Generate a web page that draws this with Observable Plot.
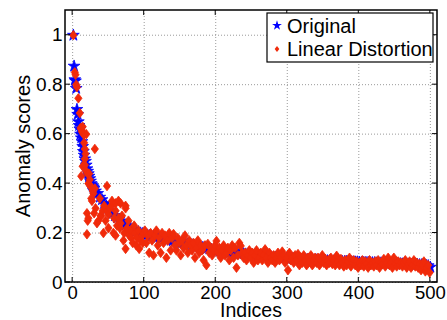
<!DOCTYPE html>
<html><head><meta charset="utf-8">
<script src="https://cdn.jsdelivr.net/npm/d3@7"></script>
<script src="https://cdn.jsdelivr.net/npm/@observablehq/plot@0.6"></script>
<style>body{margin:0;background:#fff}</style>
</head><body><div id="chart"></div>
<script>
// Axis ticks
const xTicks = [0, 100, 200, 300, 400, 500];
const yTicks = [0, 0.2, 0.4, 0.6, 0.8, 1];
const seriesNames = ["Original", "Linear Distortion"];

// Original: indices 1..30 individually
const origHeadScores = [1.00,0.875,0.82,0.815,0.785,0.70,0.68,0.65,0.635,0.62,0.60,0.585,0.57,0.55,0.53,0.515,0.50,0.49,0.475,0.46,0.45,0.44,0.43,0.42,0.41,0.40,0.395,0.39,0.385,0.38];
// Original: indices 32..500 every 3rd
const origTailScores = [
0.37,0.36,0.345,0.335,0.32,0.31,0.30,
0.29,0.28,0.27,0.262,0.255,0.247,0.24,0.233,0.226,0.22,
0.215,0.21,0.208,0.205,0.2,0.198,0.195,
0.192,0.19,0.188,0.186,0.185,0.183,0.181,0.179,0.177,0.175,0.173,0.171,0.169,0.167,0.165,0.163,0.161,
0.16,0.158,0.156,0.154,0.152,0.15,0.148,0.146,0.144,0.142,0.14,0.138,0.136,0.134,0.132,0.13,
0.128,0.127,0.126,0.125,0.124,0.123,0.122,0.121,0.12,0.119,0.118,0.117,0.116,0.115,0.114,0.113,0.112,
0.111,0.11,0.109,0.108,0.107,0.106,0.105,0.104,0.103,0.102,0.102,0.101,0.1,0.1,0.099,0.098,
0.098,0.097,0.097,0.096,0.095,0.095,0.094,0.094,0.093,0.093,0.092,0.092,0.091,0.091,0.09,0.09,0.089,
0.089,0.088,0.088,0.087,0.087,0.087,0.086,0.086,0.085,0.085,0.085,0.084,0.084,0.083,0.083,0.083,0.082,
0.082,0.081,0.081,0.081,0.08,0.08,0.08,0.079,0.079,0.079,0.078,0.078,0.078,0.077,0.077,0.077,0.076,
0.076,0.076,0.075,0.075,0.075,0.074,0.074,0.074,0.073,0.073,0.072,0.072,0.071,0.07,0.068,0.062];

// Linear distortion: early points [index, score]
const distHead = [[1,1.0],[3,0.85],[4,0.84],[5,0.80],[6,0.79],[8,0.745],[10,0.685],[11,0.625],[12,0.62],[13,0.61],[14,0.63],[15,0.60],[16,0.60],[19,0.60],[31,0.54],[16,0.565],[17,0.54],[18,0.52],[17,0.50],[15,0.47],[14,0.47],[12,0.43],[17,0.475],[19,0.45],[21,0.44],[23,0.44],[24,0.416],[22,0.40],[25,0.39],[27,0.38],[28,0.37],[29,0.36],[31,0.38],[27,0.33],[26,0.34],[20,0.28],[21,0.25],[20,0.195],[22,0.26],[30,0.28],[32,0.30],[34,0.24],[36,0.25],[38,0.34],[39,0.27],[40,0.27],[42,0.29],[43,0.20],[44,0.31],[46,0.25],[48,0.39],[48,0.29],[50,0.22],[50,0.275],[52,0.30],[54,0.31],[55,0.33],[57,0.20],[58,0.26],[60,0.32],[60,0.19],[60,0.29],[62,0.23],[64,0.33],[64,0.26],[66,0.22],[67,0.32],[67,0.24],[69,0.27],[71,0.17],[72,0.20],[74,0.30],[74,0.31],[74,0.136],[76,0.22],[78,0.25],[79,0.19],[81,0.21],[82,0.18],[84,0.16],[86,0.23],[87,0.20],[89,0.15],[90,0.18],[92,0.21],[93,0.136],[95,0.17],[97,0.19],[98,0.16],[99,0.20]];
// Linear distortion: indices 101..499 every 2nd
const distTailScores = [
0.21,0.16,0.19,0.12,0.20,0.17,0.11,0.19,0.21,0.15,
0.18,0.12,0.20,0.16,0.19,0.10,0.17,0.20,0.13,0.18,
0.196,0.15,0.13,0.18,0.16,0.11,0.17,0.14,0.19,0.15,
0.12,0.17,0.15,0.13,0.16,0.10,0.14,0.17,0.12,0.15,
0.13,0.09,0.15,0.07,0.156,0.12,0.14,0.11,0.13,0.15,
0.168,0.12,0.14,0.10,0.13,0.15,0.11,0.12,0.14,0.09,
0.13,0.15,0.10,0.14,0.06,0.11,0.16,0.148,0.12,0.10,
0.12,0.09,0.11,0.13,0.10,0.12,0.08,0.11,0.13,0.09,
0.10,0.12,0.09,0.11,0.134,0.10,0.08,0.12,0.10,0.09,
0.11,0.08,0.10,0.12,0.09,0.10,0.125,0.11,0.08,0.10,
0.05,0.12,0.09,0.10,0.08,0.11,0.09,0.115,0.07,0.10,
0.08,0.11,0.09,0.07,0.10,0.085,0.11,0.07,0.09,0.10,
0.08,0.10,0.07,0.09,0.11,0.08,0.095,0.07,0.09,0.08,
0.10,0.075,0.09,0.07,0.108,0.085,0.07,0.095,0.08,0.065,
0.09,0.07,0.085,0.10,0.065,0.08,0.09,0.07,0.085,0.06,
0.08,0.07,0.09,0.065,0.085,0.075,0.06,0.09,0.07,0.08,
0.065,0.085,0.07,0.09,0.06,0.08,0.075,0.095,0.065,0.08,
0.10,0.07,0.08,0.06,0.10,0.075,0.065,0.085,0.07,0.08,
0.065,0.08,0.09,0.06,0.075,0.085,0.06,0.07,0.09,0.065,
0.08,0.06,0.075,0.05,0.07,0.085,0.045,0.06,0.07,0.04];

const BLUE = "#0000ff", RED = "#f02a0a";
const FONT = "'Liberation Sans', Arial, Helvetica, sans-serif";

const original = [
  ...origHeadScores.map((v, k) => ({i: k + 1, v})),
  ...origTailScores.map((v, k) => ({i: 32 + 3 * k, v}))
];
const distorted = [
  ...distHead.map(([i, v]) => ({i, v})),
  ...distTailScores.map((v, k) => ({i: 101 + 2 * k, v}))
];

const diamond = {
  draw(ctx, size) {
    const r = Math.sqrt(size / Math.PI);
    const h = r * 1.45, w = r * 1.1;
    ctx.moveTo(0, -h); ctx.lineTo(w, 0); ctx.lineTo(0, h); ctx.lineTo(-w, 0); ctx.closePath();
  }
};

function decorations(index, scales, values, dims) {
  const {x, y} = scales;
  const L = dims.marginLeft, R = dims.width - dims.marginRight;
  const T = dims.marginTop, B = dims.height - dims.marginBottom;
  const g = d3.create("svg:g");
  const t = g.append("g").attr("stroke", "black").attr("stroke-width", 1);
  for (const v of xTicks) {
    t.append("line").attr("x1", x(v)).attr("x2", x(v)).attr("y1", B).attr("y2", B - 5);
    t.append("line").attr("x1", x(v)).attr("x2", x(v)).attr("y1", T).attr("y2", T + 5);
  }
  for (const v of yTicks) {
    t.append("line").attr("y1", y(v)).attr("y2", y(v)).attr("x1", L).attr("x2", L + 5);
    t.append("line").attr("y1", y(v)).attr("y2", y(v)).attr("x1", R).attr("x2", R - 5);
  }
  g.append("rect").attr("x", L).attr("y", T).attr("width", R - L).attr("height", B - T)
    .attr("fill", "none").attr("stroke", "black").attr("stroke-width", 1.5);
  // axis labels
  g.append("text").attr("x", (L + R) / 2).attr("y", 316.5).attr("text-anchor", "middle")
    .attr("font-family", FONT).attr("font-size", 19.5).attr("fill", "black").text("Indices");
  g.append("text").attr("transform", `translate(29.5,${(T + B) / 2}) rotate(-90)`).attr("text-anchor", "middle")
    .attr("font-family", FONT).attr("font-size", 20).attr("fill", "black").text("Anomaly scores");
  // legend
  const lg = g.append("g");
  lg.append("rect").attr("x", 267).attr("y", 13).attr("width", 166).attr("height", 49)
    .attr("fill", "white").attr("stroke", "black").attr("stroke-width", 1.2);
  lg.append("path").attr("transform", "translate(277,25.5)").attr("fill", BLUE)
    .attr("d", d3.symbol(d3.symbolStar, 30)());
  lg.append("path").attr("transform", "translate(277,49)").attr("fill", RED)
    .attr("d", d3.symbol(diamond, 14)());
  lg.append("text").attr("x", 287).attr("y", 33).attr("text-anchor", "start").attr("font-family", FONT).attr("font-size", 20)
    .attr("fill", "black").text(seriesNames[0]);
  lg.append("text").attr("x", 287).attr("y", 56).attr("text-anchor", "start").attr("font-family", FONT).attr("font-size", 20)
    .attr("fill", "black").text(seriesNames[1]);
  return g.node();
}

const chart = Plot.plot({
  width: 447, height: 320,
  marginLeft: 65, marginRight: 10, marginTop: 10, marginBottom: 38,
  style: {fontFamily: FONT, background: "white", color: "black"},
  x: {domain: [-10, 510]},
  y: {domain: [0, 1.1]},
  marks: [
    Plot.gridX(xTicks, {stroke: "#9a9a9a", strokeOpacity: 1, strokeDasharray: "1,2"}),
    Plot.gridY(yTicks, {stroke: "#9a9a9a", strokeOpacity: 1, strokeDasharray: "1,2"}),
    Plot.axisX(xTicks, {tickSize: 0, tickPadding: 3, fontSize: 18.5, label: null, tickFormat: d => String(d)}),
    Plot.axisY(yTicks, {tickSize: 0, tickPadding: 3, fontSize: 19, label: null, tickFormat: d => String(d)}),
    Plot.dot(original, {x: "i", y: "v", symbol: "star", r: 3.7, fill: BLUE, stroke: BLUE, strokeWidth: 0.8}),
    Plot.dot(distorted, {x: "i", y: "v", symbol: diamond, r: 3.3, fill: RED, stroke: RED, strokeWidth: 0.8}),
    decorations
  ]
});
document.getElementById("chart").appendChild(chart);
</script>
</body></html>
